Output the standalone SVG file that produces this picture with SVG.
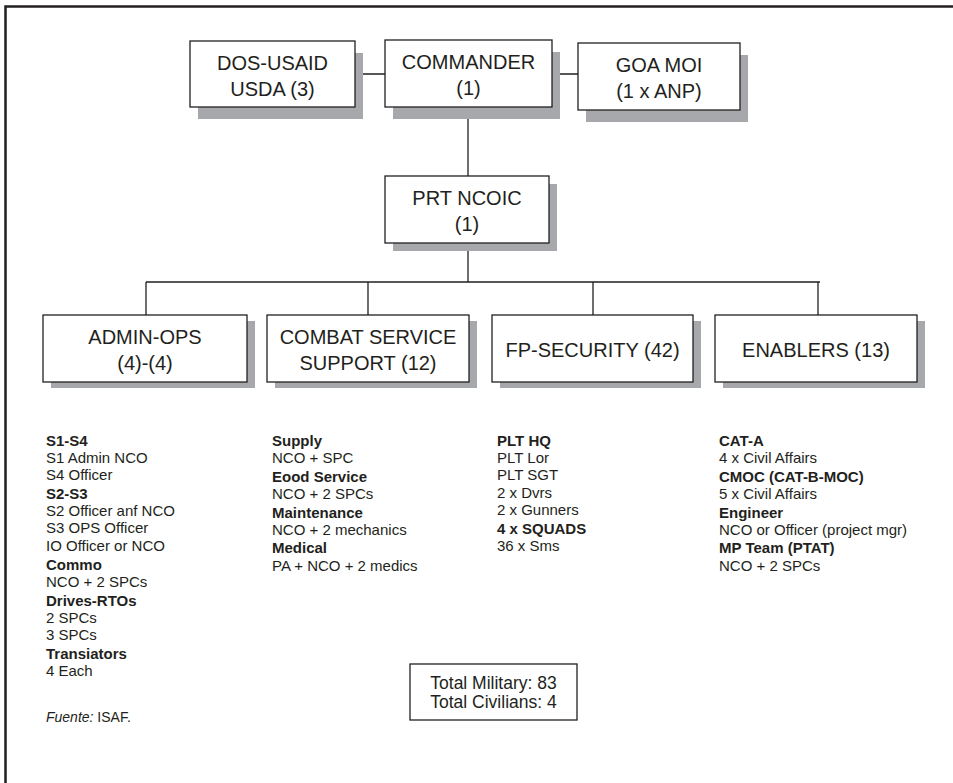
<svg xmlns="http://www.w3.org/2000/svg" width="953" height="783" viewBox="0 0 953 783">
<style>
.box{fill:#fff;stroke:#231f20;stroke-width:1.3}
.sh{fill:#a7a8ab}
.bt{font-family:"Liberation Sans",Arial,sans-serif;font-size:20px;fill:#231f20;text-anchor:middle}
.lt{font-family:"Liberation Sans",Arial,sans-serif;font-size:15px;fill:#231f20}
.tt{font-family:"Liberation Sans",Arial,sans-serif;font-size:17.5px;fill:#231f20;text-anchor:middle}
.src{font-family:"Liberation Sans",Arial,sans-serif;font-size:14px;fill:#231f20}
.b{font-weight:bold}
.con{stroke:#231f20;stroke-width:1.3;fill:none}
</style>
<rect width="953" height="783" fill="#fff"/>
<path d="M5.5,783 V6.5 H953" fill="none" stroke="#231f20" stroke-width="2.5"/>
<g id="connectors">
<path class="con" d="M355,74 H385 M552,74 H578 M468,107 V176 M468,243 V282 M146,282 H820 M146,282 V315 M368,282 V315 M593,282 V315 M818,282 V315"/>
</g>
<g id="dos-usaid">
<rect class="sh" x="198" y="53" width="165" height="66"/>
<rect class="box" x="190" y="41" width="165" height="66"/>
<text class="bt" x="272.5" y="70">DOS-USAID</text>
<text class="bt" x="272.5" y="96">USDA (3)</text>
</g>
<g id="commander">
<rect class="sh" x="393" y="52" width="167" height="67"/>
<rect class="box" x="385" y="40" width="167" height="67"/>
<text class="bt" x="468.5" y="69">COMMANDER</text>
<text class="bt" x="468.5" y="95">(1)</text>
</g>
<g id="goa-moi">
<rect class="sh" x="586" y="55" width="162" height="67"/>
<rect class="box" x="578" y="43" width="162" height="67"/>
<text class="bt" x="659" y="72">GOA MOI</text>
<text class="bt" x="659" y="98">(1 x ANP)</text>
</g>
<g id="prt-ncoic">
<rect class="sh" x="393" y="184" width="164" height="67"/>
<rect class="box" x="385" y="176" width="164" height="67"/>
<text class="bt" x="467" y="205">PRT NCOIC</text>
<text class="bt" x="467" y="231">(1)</text>
</g>
<g id="admin-ops">
<rect class="sh" x="51" y="321" width="204" height="67"/>
<rect class="box" x="43" y="315" width="204" height="67"/>
<text class="bt" x="145" y="344">ADMIN-OPS</text>
<text class="bt" x="145" y="370">(4)-(4)</text>
</g>
<g id="css">
<rect class="sh" x="275" y="321" width="202" height="67"/>
<rect class="box" x="267" y="315" width="202" height="67"/>
<text class="bt" x="368" y="344">COMBAT SERVICE</text>
<text class="bt" x="368" y="370">SUPPORT (12)</text>
</g>
<g id="fp-security">
<rect class="sh" x="500" y="321" width="201" height="67"/>
<rect class="box" x="492" y="315" width="201" height="67"/>
<text class="bt" x="592.5" y="357">FP-SECURITY (42)</text>
</g>
<g id="enablers">
<rect class="sh" x="723" y="321" width="202" height="67"/>
<rect class="box" x="715" y="315" width="202" height="67"/>
<text class="bt" x="816" y="357">ENABLERS (13)</text>
</g>
<g id="admin-list" class="lt">
<text x="46" y="446" class="b">S1-S4</text>
<text x="46" y="463">S1 Admin NCO</text>
<text x="46" y="480">S4 Officer</text>
<text x="46" y="499" class="b">S2-S3</text>
<text x="46" y="516">S2 Officer anf NCO</text>
<text x="46" y="533">S3 OPS Officer</text>
<text x="46" y="551">IO Officer or NCO</text>
<text x="46" y="570" class="b">Commo</text>
<text x="46" y="587">NCO + 2 SPCs</text>
<text x="46" y="606" class="b">Drives-RTOs</text>
<text x="46" y="623">2 SPCs</text>
<text x="46" y="640">3 SPCs</text>
<text x="46" y="659" class="b">Transiators</text>
<text x="46" y="676">4 Each</text>
</g>
<g id="css-list" class="lt">
<text x="272" y="446" class="b">Supply</text>
<text x="272" y="463">NCO + SPC</text>
<text x="272" y="482" class="b">Eood Service</text>
<text x="272" y="499">NCO + 2 SPCs</text>
<text x="272" y="518" class="b">Maintenance</text>
<text x="272" y="535">NCO + 2 mechanics</text>
<text x="272" y="553" class="b">Medical</text>
<text x="272" y="571">PA + NCO + 2 medics</text>
</g>
<g id="fp-list" class="lt">
<text x="497" y="446" class="b">PLT HQ</text>
<text x="497" y="463">PLT Lor</text>
<text x="497" y="480">PLT SGT</text>
<text x="497" y="498">2 x Dvrs</text>
<text x="497" y="515">2 x Gunners</text>
<text x="497" y="534" class="b">4 x SQUADS</text>
<text x="497" y="551">36 x Sms</text>
</g>
<g id="enablers-list" class="lt">
<text x="719" y="446" class="b">CAT-A</text>
<text x="719" y="463">4 x Civil Affairs</text>
<text x="719" y="482" class="b">CMOC (CAT-B-MOC)</text>
<text x="719" y="499">5 x Civil Affairs</text>
<text x="719" y="518" class="b">Engineer</text>
<text x="719" y="535">NCO or Officer (project mgr)</text>
<text x="719" y="553" class="b">MP Team (PTAT)</text>
<text x="719" y="571">NCO + 2 SPCs</text>
</g>
<g id="totals">
<rect x="410" y="664" width="167" height="56" fill="#fff" stroke="#231f20" stroke-width="1.3"/>
<text class="tt" x="493.5" y="689">Total Military: 83</text>
<text class="tt" x="493.5" y="708">Total Civilians: 4</text>
</g>
<text class="src" x="46" y="722"><tspan font-style="italic">Fuente:</tspan> ISAF.</text>
</svg>
